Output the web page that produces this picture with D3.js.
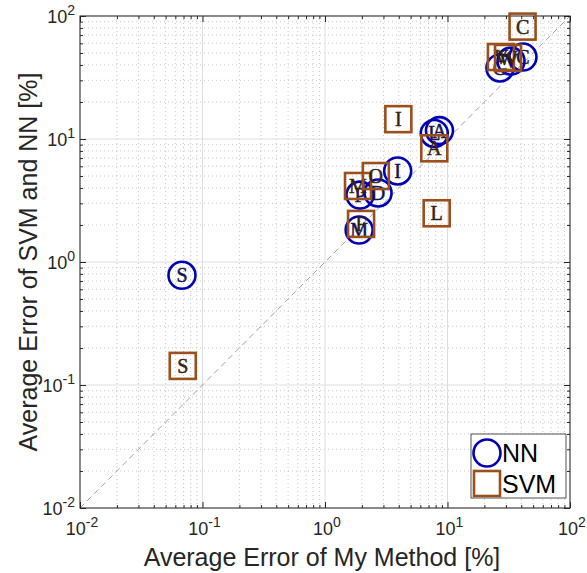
<!DOCTYPE html>
<html><head><meta charset="utf-8">
<script src="https://cdn.jsdelivr.net/npm/d3@7"></script>
<style>body{margin:0;background:#fff}svg{display:block}</style>
</head><body>
<script>
const nnLabels = ["S","M","P","D","I","L","A","G","V","C"];
const nnX = [0.068,1.9,1.93,2.71,3.92,7.8,8.6,26.8,33,41.3];
const nnY = [0.78,1.82,3.5,3.64,5.5,11.1,11.7,37.8,43,46.4];
const svmLabels = ["S","F","M","O","I","A","L","V","W","C"];
const svmX = [0.069,1.97,1.86,2.6,3.97,7.8,8.16,27.3,31.2,41];
const svmY = [0.143,2.04,4.15,5.0,14.5,8.4,2.49,46.4,45.6,82];
const tickExps = [-2,-1,0,1,2];
const legendNames = ["NN","SVM"];

const W=587,H=573;
const m={l:80,r:17,t:16,b:65};
const svg=d3.select("body").append("svg").attr("width",W).attr("height",H);
const x=d3.scaleLog().domain([1e-2,1e2]).range([m.l,W-m.r]);
const y=d3.scaleLog().domain([1e-2,1e2]).range([H-m.b,m.t]);
const x0=m.l,x1=W-m.r,y0=H-m.b,y1=m.t;
const blue="#0000b4", brown="#9a4f1c";

const minors=[];
for(let e=-2;e<2;e++) for(let k=2;k<=9;k++) minors.push(k*Math.pow(10,e));
const majors=tickExps.map(e=>Math.pow(10,e));
const g=svg.append("g");
g.selectAll(".mx").data(minors).join("line").attr("x1",d=>x(d)).attr("x2",d=>x(d)).attr("y1",y0).attr("y2",y1)
 .attr("stroke","#c8c8c8").attr("stroke-width",1).attr("stroke-dasharray","1,3");
g.selectAll(".my").data(minors).join("line").attr("y1",d=>y(d)).attr("y2",d=>y(d)).attr("x1",x0).attr("x2",x1)
 .attr("stroke","#c8c8c8").attr("stroke-width",1).attr("stroke-dasharray","1,3");
g.selectAll(".Mx").data(majors).join("line").attr("x1",d=>x(d)).attr("x2",d=>x(d)).attr("y1",y0).attr("y2",y1)
 .attr("stroke","#dedede").attr("stroke-width",1);
g.selectAll(".My").data(majors).join("line").attr("y1",d=>y(d)).attr("y2",d=>y(d)).attr("x1",x0).attr("x2",x1)
 .attr("stroke","#dedede").attr("stroke-width",1);
svg.append("line").attr("x1",x(1e-2)).attr("y1",y(1e-2)).attr("x2",x(1e2)).attr("y2",y(1e2))
 .attr("stroke","#a0a0a0").attr("stroke-width",1).attr("stroke-dasharray","6,4");

function axisG(gen,tr,size){
  const a=svg.append("g").attr("transform",tr).call(gen.tickSizeInner(size).tickSizeOuter(0).tickFormat(""));
  a.select(".domain").remove(); a.selectAll("line").attr("stroke","#262626");
}
axisG(d3.axisTop(x).tickValues(majors),`translate(0,${y0})`,6);
axisG(d3.axisTop(x).tickValues(minors),`translate(0,${y0})`,3);
axisG(d3.axisBottom(x).tickValues(majors),`translate(0,${y1})`,6);
axisG(d3.axisBottom(x).tickValues(minors),`translate(0,${y1})`,3);
axisG(d3.axisRight(y).tickValues(majors),`translate(${x0},0)`,6);
axisG(d3.axisRight(y).tickValues(minors),`translate(${x0},0)`,3);
axisG(d3.axisLeft(y).tickValues(majors),`translate(${x1},0)`,6);
axisG(d3.axisLeft(y).tickValues(minors),`translate(${x1},0)`,3);
svg.append("rect").attr("x",x0).attr("y",y1).attr("width",x1-x0).attr("height",y0-y1)
 .attr("fill","none").attr("stroke","#262626").attr("stroke-width",1);

const font="Liberation Sans, Arial, sans-serif";
tickExps.forEach(e=>{
  const t=svg.append("text").attr("x",x(Math.pow(10,e))+2).attr("y",y0+27).attr("text-anchor","middle")
    .attr("font-family",font).attr("font-size",18).attr("fill","#262626");
  t.append("tspan").text("10");
  t.append("tspan").attr("dy",-8).attr("font-size",14).text(e);
  const t2=svg.append("text").attr("x",x0-5).attr("y",y(Math.pow(10,e))+7).attr("text-anchor","end")
    .attr("font-family",font).attr("font-size",18).attr("fill","#262626");
  t2.append("tspan").text("10");
  t2.append("tspan").attr("dy",-8).attr("font-size",14).text(e);
});
svg.append("text").attr("x",(x0+x1)/2-3).attr("y",H-7).attr("text-anchor","middle")
 .attr("font-family",font).attr("font-size",25).attr("fill","#262626").text("Average Error of My Method [%]");
svg.append("text").attr("transform",`translate(37,${(y0+y1)/2}) rotate(-90)`).attr("text-anchor","middle")
 .attr("font-family",font).attr("font-size",25).attr("fill","#262626").text("Average Error of SVM and NN [%]");

const serif="Liberation Serif, Times New Roman, serif";
const nn=nnLabels.map((l,i)=>({l,x:nnX[i],y:nnY[i]}));
const sv=svmLabels.map((l,i)=>({l,x:svmX[i],y:svmY[i]}));
const cg=svg.append("g");
nn.forEach(d=>{
  cg.append("circle").attr("cx",x(d.x)).attr("cy",y(d.y)).attr("r",13.5).attr("fill","none").attr("stroke",blue).attr("stroke-width",2.6);
  cg.append("text").attr("x",x(d.x)).attr("y",y(d.y)+7).attr("text-anchor","middle").attr("font-family",serif)
    .attr("font-size",20).attr("fill","#141450").attr("stroke","#141450").attr("stroke-width",0.5).text(d.l);
});
sv.forEach(d=>{
  cg.append("rect").attr("x",x(d.x)-13).attr("y",y(d.y)-13).attr("width",26).attr("height",26).attr("fill","none").attr("stroke",brown).attr("stroke-width",2.6);
  cg.append("text").attr("x",x(d.x)).attr("y",y(d.y)+7).attr("text-anchor","middle").attr("font-family",serif)
    .attr("font-size",20).attr("fill","#3a220e").attr("stroke","#3a220e").attr("stroke-width",0.5).text(d.l);
});

const lg=svg.append("g");
lg.append("rect").attr("x",471).attr("y",434).attr("width",95).attr("height",64).attr("fill","#fff").attr("stroke","#262626").attr("stroke-width",0.8);
lg.append("circle").attr("cx",487).attr("cy",453).attr("r",13.5).attr("fill","none").attr("stroke",blue).attr("stroke-width",2.6);
lg.append("rect").attr("x",474).attr("y",471).attr("width",26).attr("height",25).attr("fill","none").attr("stroke",brown).attr("stroke-width",2.6);
legendNames.forEach((n,i)=>{
  lg.append("text").attr("x",502).attr("y",462+i*31).attr("font-family",font).attr("font-size",25).attr("fill","#000").text(n);
});
</script>
</body></html>
